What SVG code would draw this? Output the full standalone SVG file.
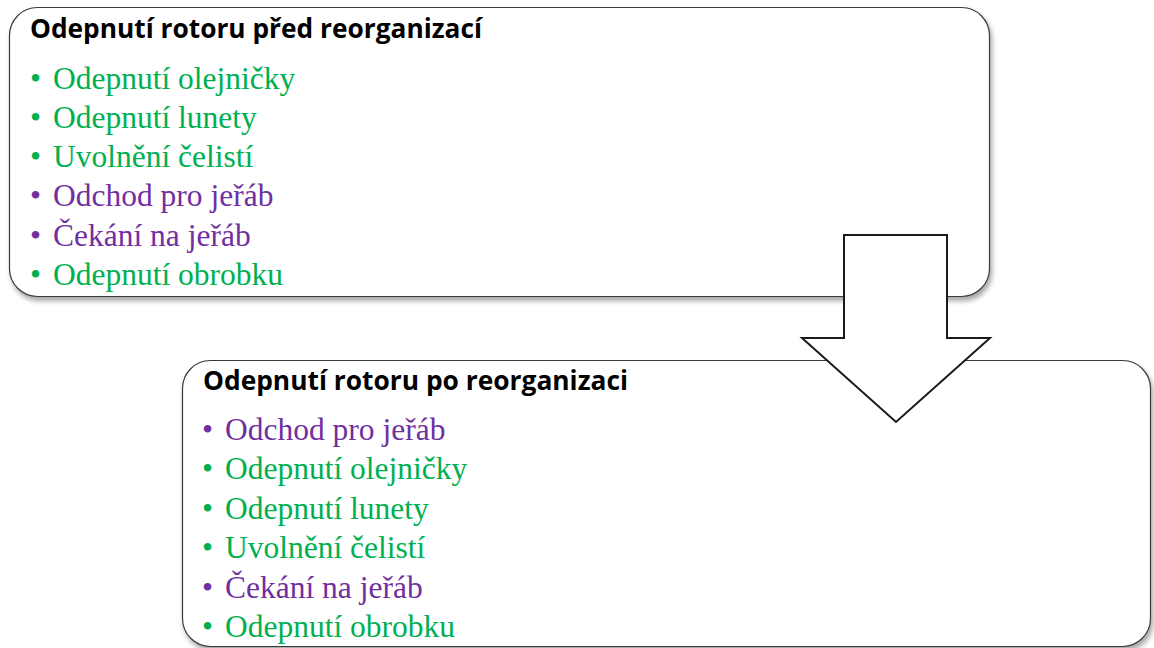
<svg xmlns="http://www.w3.org/2000/svg" width="1154" height="648" viewBox="0 0 1154 648">
  <defs>
    <filter id="shadow" x="-5%" y="-5%" width="110%" height="115%">
      <feDropShadow dx="2" dy="4" stdDeviation="2.5" flood-color="#000" flood-opacity="0.35"/>
    </filter>
    <style>
      .panel { fill: #ffffff; stroke: #3a3a3a; stroke-width: 1.2; filter: url(#shadow); }
      .title { font-family: "Open Sans", "Liberation Sans", sans-serif; font-weight: bold; font-size: 26px; fill: #000; }
      .item { font-family: "Liberation Serif", "Times New Roman", serif; font-size: 31.5px; }
      .green { fill: #00B050; }
      .purple { fill: #7030A0; }
      .arrow { fill: #ffffff; stroke: #1a1a1a; stroke-width: 2; stroke-linejoin: miter; }
    </style>
  </defs>

  <rect width="1154" height="648" fill="#ffffff"/>

  <!-- Before reorganisation -->
  <g id="before">
    <rect class="panel" x="9.5" y="7.5" width="980" height="289" rx="28" ry="28"/>
    <text class="title" x="30" y="38" textLength="452" lengthAdjust="spacingAndGlyphs">Odepnutí rotoru před reorganizací</text>
    <g class="item">
      <text class="green" x="30" y="89">•<tspan x="53">Odepnutí olejničky</tspan></text>
      <text class="green" x="30" y="128">•<tspan x="53">Odepnutí lunety</tspan></text>
      <text class="green" x="30" y="167">•<tspan x="53">Uvolnění čelistí</tspan></text>
      <text class="purple" x="30" y="206">•<tspan x="53">Odchod pro jeřáb</tspan></text>
      <text class="purple" x="30" y="246">•<tspan x="53">Čekání na jeřáb</tspan></text>
      <text class="green" x="30" y="285">•<tspan x="53">Odepnutí obrobku</tspan></text>
    </g>
  </g>

  <!-- After reorganisation -->
  <g id="after">
    <rect class="panel" x="182.5" y="360.5" width="968" height="286" rx="28" ry="28"/>
    <text class="title" x="203" y="390" textLength="425" lengthAdjust="spacingAndGlyphs">Odepnutí rotoru po reorganizaci</text>
    <g class="item">
      <text class="purple" x="202" y="440">•<tspan x="225">Odchod pro jeřáb</tspan></text>
      <text class="green" x="202" y="479">•<tspan x="225">Odepnutí olejničky</tspan></text>
      <text class="green" x="202" y="519">•<tspan x="225">Odepnutí lunety</tspan></text>
      <text class="green" x="202" y="558">•<tspan x="225">Uvolnění čelistí</tspan></text>
      <text class="purple" x="202" y="598">•<tspan x="225">Čekání na jeřáb</tspan></text>
      <text class="green" x="202" y="637">•<tspan x="225">Odepnutí obrobku</tspan></text>
    </g>
  </g>

  <!-- Block arrow from the first panel to the second -->
  <g id="connectors">
    <polygon class="arrow" points="844,235 947,235 947,338 990,338 896,422 802,338 844,338"/>
  </g>
</svg>
